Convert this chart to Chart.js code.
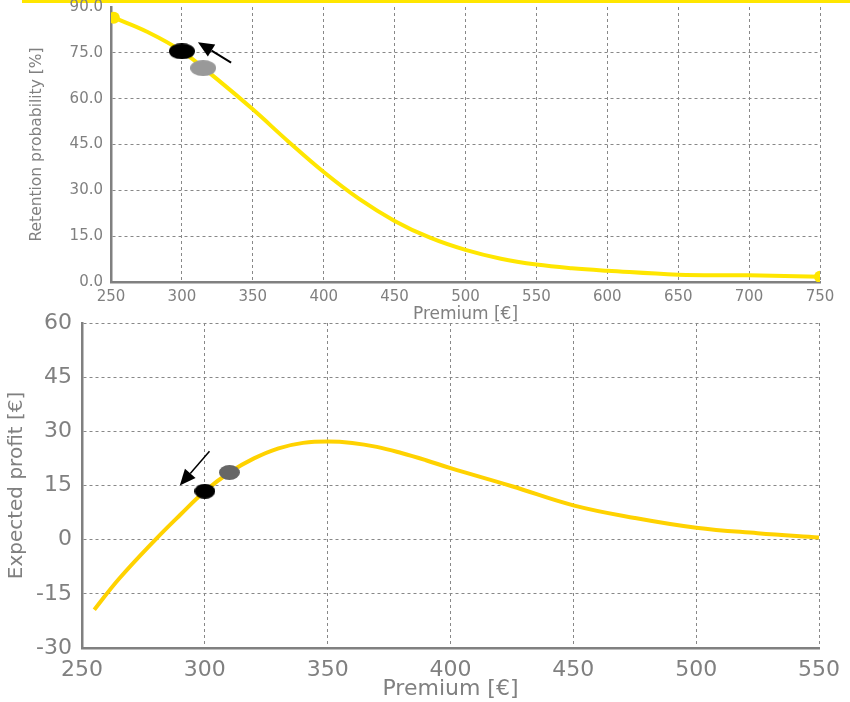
<!DOCTYPE html>
<html>
<head>
<meta charset="utf-8">
<script src="https://cdn.jsdelivr.net/npm/chart.js@4.4.0/dist/chart.umd.min.js"></script>
<style>
  body { margin: 0; background: #fff; }
  #wrap { position: relative; width: 850px; height: 702px; overflow: hidden; }
  #band { position: absolute; left: 22px; top: 0; width: 828px; height: 3px; background: #ffe600; }
  canvas { position: absolute; left: 0; }
  #retention-chart { top: 0; }
  #profit-chart { top: 300px; }
</style>
</head>
<body>
<div id="wrap">
  <div id="band"></div>
  <canvas id="retention-chart" width="850" height="325"></canvas>
  <canvas id="profit-chart" width="850" height="402"></canvas>
</div>
<script>
// Retention curve (top)
const retPremium = [252, 275, 300, 325, 350, 375, 400, 425, 450, 475, 500, 525, 550, 575, 600, 650, 700, 750];
const retProb = [86.5, 82, 75.5, 66.3, 56.5, 46, 36, 27.2, 20, 14.5, 10.5, 7.6, 5.7, 4.5, 3.7, 2.4, 2.2, 1.7];
const retCurrent = [300, 75.5];
const retNew = [315, 70];
const retArrow = [[334.7, 71.8], [311.3, 78.5]];

// Expected profit curve (bottom)
const profitPremium = [255, 265, 280, 290, 300, 310, 320, 330, 340, 350, 360, 370, 380, 390, 400, 425, 450, 475, 500, 525, 550];
const profitValue = [-19.4, -10.9, 0.1, 6.9, 13.4, 18.6, 22.5, 25.3, 26.8, 27.2, 26.8, 25.7, 24.0, 22.0, 19.8, 14.8, 9.5, 6.0, 3.3, 1.8, 0.6];
const profitCurrent = [300, 13.4];
const profitNew = [310, 18.6];
const profitArrow = [[301.9, 24.5], [289.8, 15.0]];

const GRAY = "#808080";
const FONT = "DejaVu Sans";

// ellipse marker as an image point style
function ellipse(w, h, color) {
  const c = document.createElement("canvas");
  c.width = w;
  c.height = h;
  const g = c.getContext("2d");
  g.fillStyle = color;
  g.beginPath();
  g.ellipse(w / 2, h / 2, w / 2, h / 2, 0, 0, Math.PI * 2);
  g.fill();
  return c;
}

// draws an arrow from tail to head in data coordinates
const arrowPlugin = {
  id: "arrow",
  afterDatasetsDraw(chart, args, opts) {
    if (!opts.points) return;
    const xs = chart.scales.x, ys = chart.scales.y;
    const [t, h] = opts.points;
    const x1 = xs.getPixelForValue(t[0]), y1 = ys.getPixelForValue(t[1]);
    const x2 = xs.getPixelForValue(h[0]), y2 = ys.getPixelForValue(h[1]);
    const ang = Math.atan2(y2 - y1, x2 - x1);
    const len = opts.head, half = opts.headWidth / 2;
    const bx = x2 - len * Math.cos(ang), by = y2 - len * Math.sin(ang);
    const ctx = chart.ctx;
    ctx.save();
    ctx.strokeStyle = "#000";
    ctx.fillStyle = "#000";
    ctx.lineWidth = opts.width;
    ctx.beginPath();
    ctx.moveTo(x1, y1);
    ctx.lineTo(bx, by);
    ctx.stroke();
    ctx.beginPath();
    ctx.moveTo(x2, y2);
    ctx.lineTo(bx + half * Math.sin(ang), by - half * Math.cos(ang));
    ctx.lineTo(bx - half * Math.sin(ang), by + half * Math.cos(ang));
    ctx.closePath();
    ctx.fill();
    ctx.restore();
  }
};

function fixedX(h) {
  return (s) => { s.height = h; s.paddingLeft = 0; s.paddingRight = 0; };
}
function fixedY(w) {
  return (s) => { s.width = w; s.paddingTop = 0; s.paddingBottom = 0; };
}

// Top chart
const retLast = retPremium.length - 1;
new Chart(document.getElementById("retention-chart"), {
  type: "line",
  data: {
    datasets: [
      {
        data: [{ x: retCurrent[0], y: retCurrent[1] }],
        pointStyle: ellipse(26, 16, "#000"),
        showLine: false,
        order: 0,
      },
      {
        data: [{ x: retNew[0], y: retNew[1] }],
        pointStyle: ellipse(26, 16, "#999999"),
        showLine: false,
        order: 0,
      },
      {
        data: retPremium.map((p, i) => ({ x: p, y: retProb[i] })),
        borderColor: "#ffe600",
        backgroundColor: "#ffe600",
        borderWidth: 4,
        tension: 0.4,
        pointRadius: (ctx) => (ctx.dataIndex === 0 || ctx.dataIndex === retLast ? 6 : 0),
        pointBorderWidth: 0,
        order: 1,
      },
    ],
  },
  options: {
    responsive: false,
    animation: false,
    events: [],
    layout: { padding: { left: 0, top: 7, right: 30, bottom: 0 } },
    plugins: {
      legend: { display: false },
      tooltip: { enabled: false },
      arrow: { points: retArrow, head: 16, headWidth: 14, width: 2 },
    },
    scales: {
      x: {
        type: "linear",
        min: 250,
        max: 750,
        afterFit: fixedX(43),
        ticks: { stepSize: 50, color: GRAY, font: { family: FONT, size: 15 }, padding: 6 },
        grid: { color: "#888", lineWidth: 1, drawTicks: false },
        border: { color: GRAY, width: 2.5, dash: [3, 3] },
        title: {
          display: true,
          text: "Premium [€]",
          color: GRAY,
          font: { family: FONT, size: 17 },
          padding: { top: 0, bottom: 0 },
        },
      },
      y: {
        min: 0,
        max: 90,
        afterFit: fixedY(111),
        ticks: {
          stepSize: 15,
          color: GRAY,
          font: { family: FONT, size: 15 },
          padding: 8,
          callback: (v) => v.toFixed(1),
        },
        grid: {
          color: (ctx) => (ctx.tick && ctx.tick.value === 90 ? "rgba(0,0,0,0)" : "#888"),
          lineWidth: 1,
          drawTicks: false,
        },
        border: { color: GRAY, width: 2.5, dash: [3, 3] },
        title: {
          display: true,
          text: "Retention probability [%]",
          color: GRAY,
          font: { family: FONT, size: 15.5 },
          padding: { top: 28, bottom: 0 },
        },
      },
    },
  },
  plugins: [arrowPlugin],
});

// Bottom chart
new Chart(document.getElementById("profit-chart"), {
  type: "line",
  data: {
    datasets: [
      {
        data: [{ x: profitCurrent[0], y: profitCurrent[1] }],
        pointStyle: ellipse(21, 15, "#000"),
        showLine: false,
        order: 0,
      },
      {
        data: [{ x: profitNew[0], y: profitNew[1] }],
        pointStyle: ellipse(21, 15, "#666666"),
        showLine: false,
        order: 0,
      },
      {
        data: profitPremium.map((p, i) => ({ x: p, y: profitValue[i] })),
        borderColor: "#ffd200",
        borderWidth: 4,
        tension: 0.4,
        pointRadius: 0,
        order: 1,
      },
    ],
  },
  options: {
    responsive: false,
    animation: false,
    events: [],
    layout: { padding: { left: 0, top: 23, right: 31, bottom: 0 } },
    plugins: {
      legend: { display: false },
      tooltip: { enabled: false },
      arrow: { points: profitArrow, head: 16, headWidth: 14, width: 1.5 },
    },
    scales: {
      x: {
        type: "linear",
        min: 250,
        max: 550,
        afterFit: fixedX(54),
        ticks: { stepSize: 50, color: GRAY, font: { family: FONT, size: 22 }, padding: 9 },
        grid: { color: "#888", lineWidth: 1, drawTicks: false },
        border: { color: GRAY, width: 2.5, dash: [3, 3] },
        title: {
          display: true,
          text: "Premium [€]",
          color: GRAY,
          font: { family: FONT, size: 22 },
          padding: { top: 0, bottom: 0 },
        },
      },
      y: {
        min: -30,
        max: 60,
        afterFit: fixedY(82),
        ticks: { stepSize: 15, color: GRAY, font: { family: FONT, size: 22 }, padding: 10 },
        grid: { color: "#888", lineWidth: 1, drawTicks: false },
        border: { color: GRAY, width: 2.5, dash: [3, 3] },
        title: {
          display: true,
          text: "Expected profit [€]",
          color: GRAY,
          font: { family: FONT, size: 20 },
          padding: { top: 5, bottom: 0 },
        },
      },
    },
  },
  plugins: [arrowPlugin],
});
</script>
</body>
</html>
